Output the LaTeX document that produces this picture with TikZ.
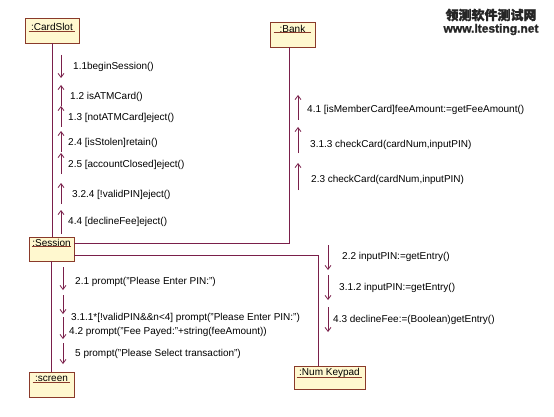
\documentclass[tikz,border=0pt]{standalone}
\usepackage{fontspec}
\setmainfont{Liberation Sans}
\newfontfamily\cjkfont[FakeBold=1.5]{Noto Sans CJK SC}
\newfontfamily\wmlatin[FakeBold=1.5]{Liberation Sans}
\usetikzlibrary{arrows.meta,calc}
\definecolor{lifecol}{HTML}{7A1F4A}
\definecolor{boxfill}{HTML}{FFF8CF}
\definecolor{boxdraw}{HTML}{8A3A2A}
\definecolor{wmcol}{HTML}{262626}
\begin{document}
\begin{tikzpicture}[x=1pt,y=-1pt,
  obj/.style={draw=boxdraw,fill=boxfill,line width=0.9pt,inner sep=0pt},
  objlbl/.style={inner sep=0pt,font=\fontsize{10pt}{11pt}\selectfont},
  uline/.style={draw=boxdraw,line width=0.7pt},
  life/.style={draw=lifecol,line width=1pt},
  msg/.style={draw=lifecol,line width=0.8pt,-{Straight Barb[length=4pt,width=6pt]}},
  lbl/.style={anchor=west,inner sep=0pt,font=\fontsize{10pt}{11pt}\selectfont},
  wm/.style={inner sep=0pt,text=wmcol}]
\fill[white] (0,0) rectangle (554,417);
\useasboundingbox (0,0) rectangle (554,417);

% objects
\node[obj,minimum width=54pt,minimum height=25pt] (card) at (52,30.5) {};
\node[objlbl] (cardl) at (52,26.5) {:CardSlot};
\draw[uline] ($(card.north west)+(4,13.5)$) -- ($(card.north east)+(-4,13.5)$);

\node[obj,minimum width=45pt,minimum height=25pt] (bank) at (292.5,34.5) {};
\node[objlbl] (bankl) at (292.5,28.5) {:Bank};
\draw[uline] ($(bank.north west)+(4,11)$) -- ($(bank.north east)+(-4,11)$);

\node[obj,minimum width=45pt,minimum height=24pt] (session) at (51.5,249) {};
\node[objlbl] (sessionl) at (51.5,243) {:Session};
\draw[uline] ($(session.north west)+(3,10)$) -- ($(session.north east)+(-3,10)$);

\node[obj,minimum width=45pt,minimum height=25pt] (screen) at (51.5,384.5) {};
\node[objlbl] (screenl) at (51.5,379) {:screen};
\draw[uline] ($(screen.north west)+(4,11)$) -- ($(screen.north east)+(-4,11)$);

\node[obj,minimum width=71pt,minimum height=23pt] (keypad) at (329.5,377.5) {};
\node[objlbl] (keypadl) at (329.5,372.5) {:Num Keypad};
\draw[uline] ($(keypad.north west)+(3,12)$) -- ($(keypad.north east)+(-3,12)$);

% links
\draw[life] (card.south) -- (card.south |- session.north);
\draw[life] (session.south) -- (session.south |- screen.north);
\draw[life] ([yshift=6pt]session.east) -| ([xshift=-3.5pt]bank.south);
\draw[life] ([yshift=-6pt]session.east) -| ([xshift=-11.5pt]keypad.north);

% CardSlot <-> Session messages
\draw[msg] (61,55) -- (61,78);
\node[lbl] (m11) at (73,67) {1.1beginSession()};
\draw[msg] (61,106) -- (61,85);
\node[lbl] (m12) at (70,97) {1.2 isATMCard()};
\draw[msg] (61,127) -- (61,106);
\node[lbl] (m13) at (68,118) {1.3 [notATMCard]eject()};
\draw[msg] (61,152) -- (61,131);
\node[lbl] (m24) at (68,143) {2.4 [isStolen]retain()};
\draw[msg] (61,174) -- (61,153);
\node[lbl] (m25) at (68,165) {2.5 [accountClosed]eject()};
\draw[msg] (61,204) -- (61,183);
\node[lbl] (m324) at (72,195) {3.2.4 [!validPIN]eject()};
\draw[msg] (61,234) -- (61,210);
\node[lbl] (m44) at (68,222) {4.4 [declineFee]eject()};

% Session <-> Bank messages
\draw[msg] (298,120) -- (298,95);
\node[lbl] (m41) at (307,110) {4.1 [isMemberCard]feeAmount:=getFeeAmount()};
\draw[msg] (298,153) -- (298,127);
\node[lbl] (m313) at (310,145) {3.1.3 checkCard(cardNum,inputPIN)};
\draw[msg] (298,190) -- (298,163);
\node[lbl] (m23) at (311,180) {2.3 checkCard(cardNum,inputPIN)};

% Session -> screen messages
\draw[msg] (63,267) -- (63,290);
\node[lbl] (m21) at (75,282) {2.1 prompt("Please Enter PIN:")};
\draw[msg] (63,295) -- (63,314);
\node[lbl] (m311) at (71,318) {3.1.1*[!validPIN\&\&n<4] prompt("Please Enter PIN:")};
\draw[msg] (63,317) -- (63,339);
\node[lbl] (m42) at (69,332) {4.2 prompt("Fee Payed:"+string(feeAmount))};
\draw[msg] (63,343) -- (63,364);
\node[lbl] (m5) at (75,354) {5 prompt("Please Select transaction")};

% Session -> Keypad messages
\draw[msg] (328,245) -- (328,270);
\node[lbl] (m22) at (342,257) {2.2 inputPIN:=getEntry()};
\draw[msg] (328,275) -- (328,300);
\node[lbl] (m312) at (339,288) {3.1.2 inputPIN:=getEntry()};
\draw[msg] (328,307) -- (328,332);
\node[lbl] (m43) at (333,320) {4.3 declineFee:=(Boolean)getEntry()};

% watermark
\node[wm] (wm1) at (491,15) {\cjkfont\fontsize{13pt}{13pt}\selectfont\bfseries 领测软件测试网};
\node[wm] (wm2) at (491,29.5) {\wmlatin\fontsize{12pt}{12pt}\selectfont\bfseries www.ltesting.net};
\end{tikzpicture}
\end{document}
